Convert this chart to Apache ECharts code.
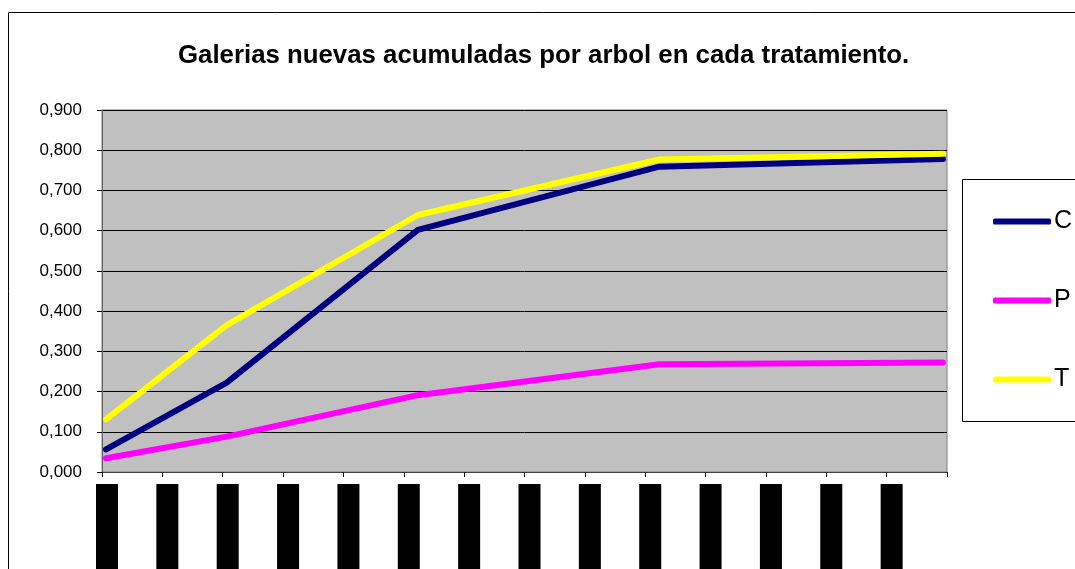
<!DOCTYPE html>
<html>
<head>
<meta charset="utf-8">
<script src="https://cdn.jsdelivr.net/npm/echarts@6/dist/echarts.min.js"></script>
<style>
html,body{margin:0;padding:0;background:#fff;}
#chart{width:1075px;height:569px;}
</style>
</head>
<body>
<div id="chart"></div>
<script>
// Data (x in days from start, ticks every 30 days)
const titleText = 'Galerias nuevas acumuladas por arbol en cada tratamiento.';
const seriesNames = ['C', 'P', 'T'];
const xDays = [2, 62, 157, 277, 418];
const valuesC = [0.056, 0.222, 0.602, 0.759, 0.778];
const valuesP = [0.034, 0.088, 0.191, 0.268, 0.272];
const valuesT = [0.131, 0.365, 0.639, 0.777, 0.791];
const xTickLabels = ['01/11/2004','01/12/2004','31/12/2004','30/01/2005','01/03/2005','31/03/2005','30/04/2005','30/05/2005','29/06/2005','29/07/2005','28/08/2005','27/09/2005','27/10/2005','26/11/2005',''];
const seriesColors = ['#000080', '#FF00FF', '#FFFF00'];

const font = "'Liberation Sans', Arial, sans-serif";
const chart = echarts.init(document.getElementById('chart'));

function pairs(xs, ys){ return xs.map((x,i)=>[x, ys[i]]); }
const allValues = [valuesC, valuesP, valuesT];

chart.setOption({
  animation: false,
  backgroundColor: '#ffffff',
  title: {
    text: titleText,
    left: 173,
    top: 38,
    textStyle: {fontFamily: font, fontSize: 25.8, fontWeight: 'bold', color: '#000'}
  },
  graphic: [
    {type: 'rect', shape: {x: 8.5, y: 12.5, width: 1200, height: 700}, style: {fill: 'none', stroke: '#000', lineWidth: 1}, silent: true, z: -10},
    {type: 'rect', shape: {x: 962.5, y: 179.5, width: 200, height: 242}, style: {fill: '#fff', stroke: '#000', lineWidth: 1}, silent: true, z: -5}
  ],
  legend: {
    orient: 'vertical',
    left: 988,
    top: 204,
    itemWidth: 58,
    itemHeight: 6,
    itemGap: 54,
    icon: 'roundRect',
    textStyle: {fontFamily: font, fontSize: 25, color: '#000', padding: [0,0,0,-2]},
    data: seriesNames
  },
  grid: {
    left: 102, right: 128, top: 110, bottom: 97,
    outerBoundsMode: 'none',
    containLabel: false,
    show: true,
    backgroundColor: '#C0C0C0',
    borderColor: '#808080',
    borderWidth: 1
  },
  xAxis: {
    type: 'value',
    min: 0, max: 420, interval: 30,
    axisLine: {show: true, onZero: false, lineStyle: {color: '#404040', width: 1}},
    axisTick: {show: true, length: 5, lineStyle: {color: '#000'}},
    splitLine: {show: false},
    axisLabel: {
      rotate: 90,
      margin: 12,
      padding: [10, 0, 0, 0],
      showMaxLabel: true,
      formatter: function(v){
        const t = xTickLabels[Math.round(v/30)];
        return t ? '{b|' + t + '}' : '';
      },
      rich: {
        b: {backgroundColor: '#000', color: '#000', fontFamily: font, fontSize: 14, height: 22, width: 100, lineHeight: 22}
      }
    }
  },
  yAxis: {
    type: 'value',
    min: 0, max: 0.9, interval: 0.1,
    axisLine: {show: true, lineStyle: {color: '#606060', width: 1}},
    axisTick: {show: true, length: 5, lineStyle: {color: '#000'}},
    splitLine: {show: true, lineStyle: {color: '#000', width: 1}},
    axisLabel: {
      margin: 20,
      fontFamily: font, fontSize: 17, color: '#000',
      formatter: function(v){ return v.toFixed(3).replace('.', ','); }
    }
  },
  series: seriesNames.map((n, i) => ({
    name: n,
    type: 'line',
    data: pairs(xDays, allValues[i]),
    symbol: 'none',
    color: seriesColors[i],
    lineStyle: {color: seriesColors[i], width: 6, cap: 'round', join: 'round'},
    itemStyle: {color: seriesColors[i]},
    z: 2 + i
  }))
});
</script>
</body>
</html>
